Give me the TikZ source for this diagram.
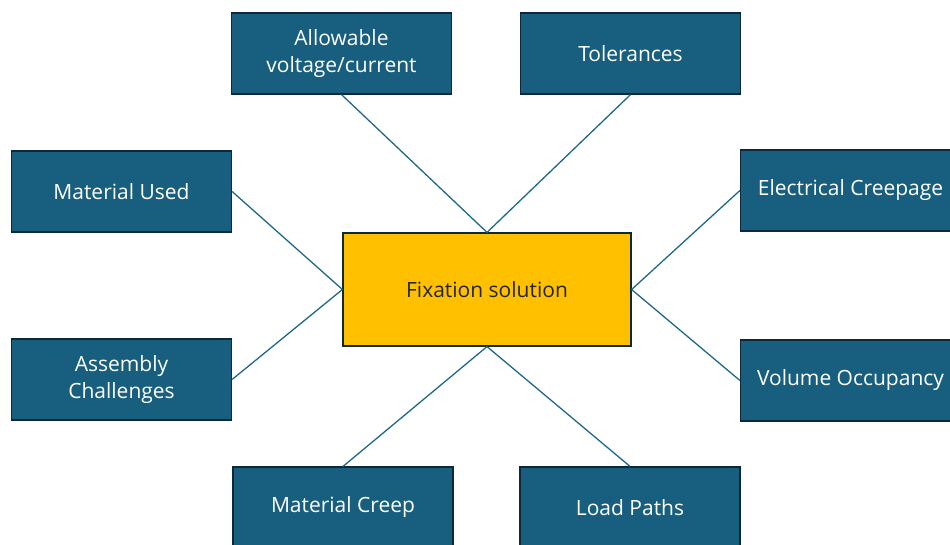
\documentclass[tikz,border=0pt]{standalone}
\usepackage{fontspec}
\setmainfont{Open Sans}
\definecolor{boxblue}{RGB}{23,94,127}
\definecolor{boxedge}{RGB}{12,40,60}
\definecolor{linkblue}{RGB}{31,104,136}
\definecolor{hubgold}{RGB}{255,192,0}
\begin{document}
\begin{tikzpicture}[x=1pt,y=-1pt,
  factor/.style={draw=boxedge,line width=1.2pt,fill=boxblue,text=white,
    minimum width=220pt,minimum height=81pt,inner sep=0pt,align=center,
    font=\fontsize{21}{27}\selectfont},
  hub/.style={draw=boxedge,line width=1.2pt,fill=hubgold,text=black!85,
    minimum width=288pt,minimum height=113pt,inner sep=0pt,
    font=\fontsize{21}{27}\selectfont},
  link/.style={draw=linkblue,line width=1.3pt}]
\useasboundingbox (0,0) rectangle (950,545);
\clip (0,0) rectangle (950,545);
\node[hub] (fix) at (487,289.5) {Fixation solution};
\node[factor] (volt) at (341.5,53.5) {Allowable\\voltage/current};
\node[factor] (tol) at (630.5,53.5) {Tolerances};
\node[factor] (mat) at (121.5,191.5) {Material Used};
\node[factor] (asm) at (121.5,379.5) {Assembly\\Challenges};
\node[factor] (elec) at (850.5,190.5) {Electrical Creepage};
\node[factor] (vol) at (850.5,380.5) {Volume Occupancy};
\node[factor] (creep) at (343,507.5) {Material Creep};
\node[factor] (load) at (630,507.5) {Load Paths};
\draw[link] (fix.north) -- (volt.south);
\draw[link] (fix.north) -- (tol.south);
\draw[link] (fix.west) -- (mat.east);
\draw[link] (fix.west) -- (asm.east);
\draw[link] (fix.east) -- (elec.west);
\draw[link] (fix.east) -- (vol.west);
\draw[link] (fix.south) -- (creep.north);
\draw[link] (fix.south) -- (load.north);
\end{tikzpicture}
\end{document}
